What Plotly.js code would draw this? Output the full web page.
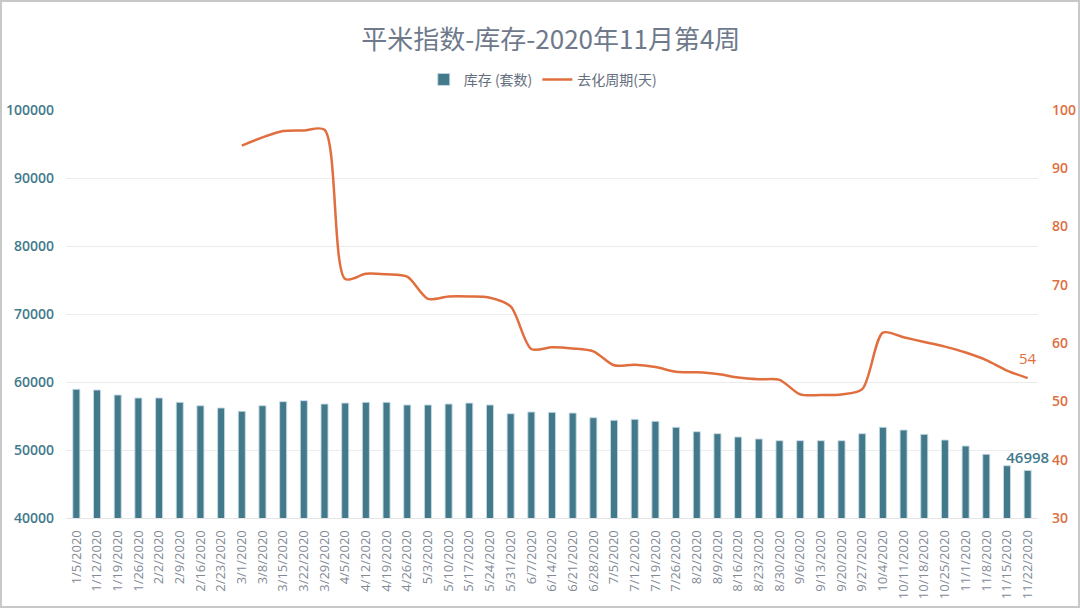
<!DOCTYPE html>
<html>
<head>
<meta charset="utf-8">
<script src="https://cdn.plot.ly/plotly-3.0.1.min.js"></script>
<style>
html,body{margin:0;padding:0;background:#fff;}
#wrap{position:relative;width:1080px;height:608px;}
#chart{width:1080px;height:608px;}
#frame{position:absolute;left:0;top:0;width:1076px;height:604px;border:2px solid #c8c8c8;pointer-events:none;}
</style>
</head>
<body>
<div id="wrap"><div id="chart"></div><div id="frame"></div></div>
<script>
const weeks = ["1/5/2020","1/12/2020","1/19/2020","1/26/2020","2/2/2020","2/9/2020","2/16/2020","2/23/2020","3/1/2020","3/8/2020","3/15/2020","3/22/2020","3/29/2020","4/5/2020","4/12/2020","4/19/2020","4/26/2020","5/3/2020","5/10/2020","5/17/2020","5/24/2020","5/31/2020","6/7/2020","6/14/2020","6/21/2020","6/28/2020","7/5/2020","7/12/2020","7/19/2020","7/26/2020","8/2/2020","8/9/2020","8/16/2020","8/23/2020","8/30/2020","9/6/2020","9/13/2020","9/20/2020","9/27/2020","10/4/2020","10/11/2020","10/18/2020","10/25/2020","11/1/2020","11/8/2020","11/15/2020","11/22/2020"];

const inventory = [58930,58820,58090,57650,57650,57010,56510,56180,55690,56510,57110,57250,56760,56900,57010,57010,56620,56620,56760,56900,56620,55340,55590,55540,55440,54750,54370,54510,54220,53340,52690,52400,51910,51620,51370,51370,51370,51370,52400,53340,52940,52300,51470,50590,49370,47690,46998];

const cycleDays = [null,null,null,null,null,null,null,null,93.9,95.3,96.4,96.5,96.6,71.0,71.9,71.8,71.4,67.6,68.0,68.0,67.8,66.3,59.0,59.3,59.1,58.6,56.2,56.3,55.9,55.1,55.0,54.7,54.1,53.8,53.7,51.2,51.1,51.2,52.1,61.8,61.0,60.2,59.4,58.4,57.1,55.3,54.0];

const seriesNames = ["库存 (套数)", "去化周期(天)"];
const titleText = "平米指数-库存-2020年11月第4周";

const barColor = "rgb(66,122,140)";
const lineColor = "rgb(224,110,62)";

const barText = inventory.map((v,i)=> i===inventory.length-1 ? String(v) : "");
const lastIdx = weeks.length - 1;

const traces = [
  {
    type: "bar",
    name: seriesNames[0],
    x: weeks,
    y: inventory,
    marker: {color: barColor, line: {color: "rgba(200,220,228,0.9)", width: 1}},
    text: barText,
    textposition: "outside",
    constraintext: "none",
    textfont: {family: "Open Sans, sans-serif", size: 15, color: barColor, weight: 600},
    cliponaxis: false,
    hoverinfo: "x+y"
  },
  {
    type: "scatter",
    mode: "lines",
    name: seriesNames[1],
    x: weeks,
    y: cycleDays,
    yaxis: "y2",
    line: {color: lineColor, width: 2.5, shape: "spline", smoothing: 0.8},
    cliponaxis: false,
    connectgaps: false
  }
];

const layout = {
  width: 1080,
  height: 608,
  paper_bgcolor: "#fff",
  plot_bgcolor: "#fff",
  margin: {l: 66, r: 42, t: 110, b: 90},
  title: {
    text: titleText,
    x: 0.51, xanchor: "center",
    y: 0.934, yanchor: "middle",
    font: {family: "Noto Sans CJK SC, sans-serif", size: 26, color: "rgb(110,122,140)"}
  },
  showlegend: true,
  legend: {
    orientation: "h",
    x: 0.491, xanchor: "center",
    y: 1.074, yanchor: "middle",
    font: {family: "Noto Sans CJK SC, sans-serif", size: 14, color: "rgb(100,110,125)"},
    itemwidth: 30
  },
  annotations: [
    {
      x: weeks[lastIdx],
      y: cycleDays[lastIdx],
      xref: "x",
      yref: "y2",
      text: String(Math.round(cycleDays[lastIdx])),
      showarrow: false,
      yshift: 20,
      font: {family: "Open Sans, sans-serif", size: 15, color: lineColor}
    }
  ],
  bargap: 0.66,
  xaxis: {
    type: "category",
    range: [-0.5, weeks.length - 0.5],
    tickangle: -90,
    tickfont: {family: "Open Sans, sans-serif", size: 13, color: "rgb(130,138,150)"},
    showgrid: false,
    showline: true,
    linecolor: "#e4e4e4",
    linewidth: 1,
    ticks: "",
    ticklabelstandoff: 6
  },
  yaxis: {
    range: [40000, 100000],
    dtick: 10000,
    tickformat: "d",
    tickfont: {family: "Open Sans, sans-serif", size: 14, color: barColor, weight: 600},
    gridcolor: "#ececec",
    gridwidth: 1,
    zeroline: false,
    showline: false,
    ticklabelstandoff: 11
  },
  yaxis2: {
    overlaying: "y",
    side: "right",
    range: [30, 100],
    dtick: 10,
    tickfont: {family: "Open Sans, sans-serif", size: 14, color: lineColor, weight: 600},
    showgrid: false,
    zeroline: false,
    showline: false,
    ticklabelstandoff: 13
  }
};

Plotly.newPlot("chart", traces, layout, {displayModeBar: false, staticPlot: true});
</script>
</body>
</html>
